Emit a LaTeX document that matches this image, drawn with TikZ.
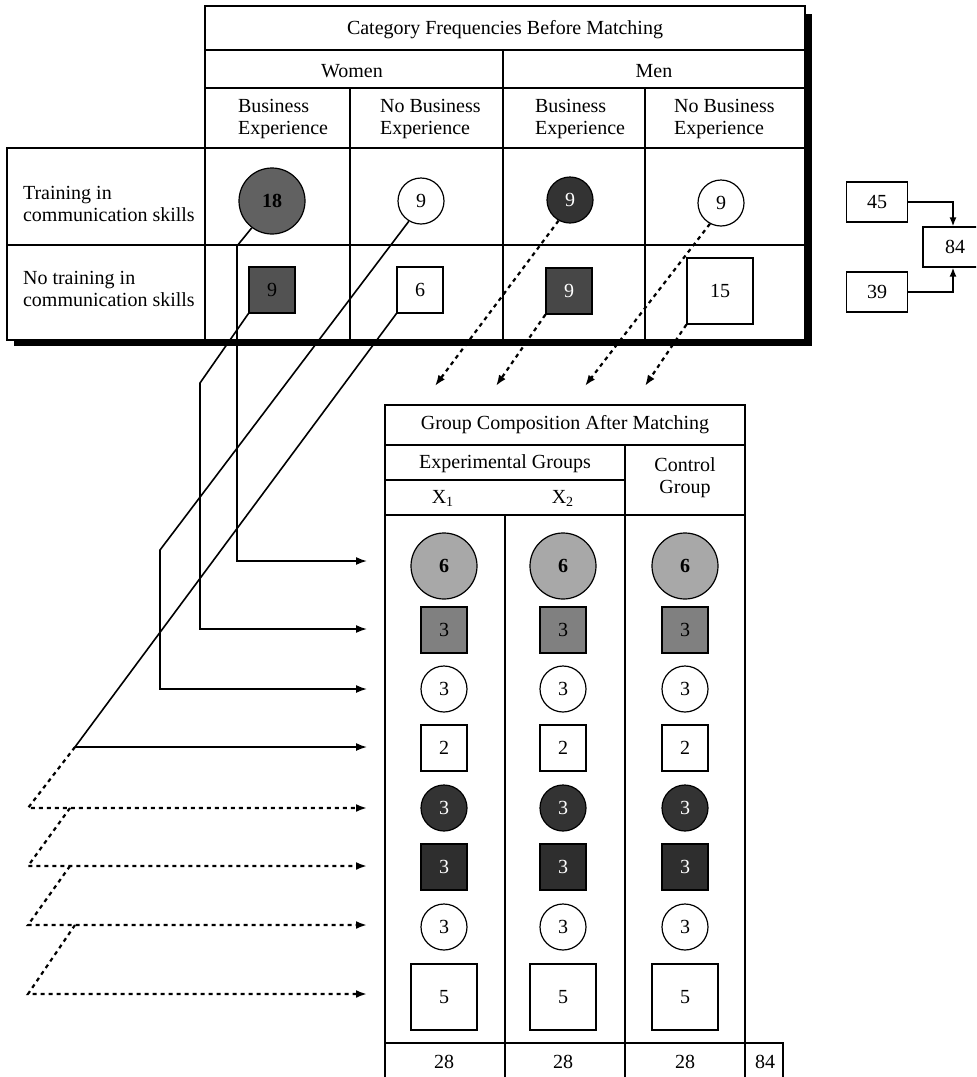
\documentclass[tikz,border=0pt]{standalone}
\usepackage{fontspec}
\setmainfont{Liberation Serif}
\usetikzlibrary{arrows.meta}
\definecolor{lightdot}{gray}{0.66}
\definecolor{middot}{gray}{0.50}
\definecolor{womendot}{gray}{0.38}
\definecolor{darkdot}{gray}{0.20}

\begin{document}
\begin{tikzpicture}[x=0.5pt,y=-0.5pt,
  font=\fontsize{10}{11}\selectfont,
  rule/.style={line width=0.6pt},
  ring/.style={circle,draw,line width=0.6pt,minimum size=23pt,inner sep=0pt},
  bigring/.style={ring,minimum size=33pt},
  tile/.style={rectangle,draw,line width=0.6pt,minimum size=23pt,inner sep=0pt},
  bigtile/.style={tile,minimum size=33pt},
  sumbox/.style={rectangle,draw,line width=0.6pt,minimum width=30.5pt,minimum height=20pt},
  wire/.style={line width=0.8pt,-{Latex[length=5.5pt,width=4pt]}},
  dotwire/.style={wire,line width=1.1pt,dash pattern=on 2pt off 2pt}]
\useasboundingbox (0,0) rectangle (976,1077);
\clip (0,0) rectangle (976,1077);

% before matching
\draw[rule] (205,6) rectangle (805,340);
\draw[rule] (7,148) rectangle (205,340);
\draw[rule] (205,50) -- (805,50);
\draw[rule] (205,88) -- (805,88);
\draw[rule] (205,148) -- (805,148);
\draw[rule] (7,245) -- (805,245);
\draw[rule] (503,50) -- (503,340);
\draw[rule] (350,88) -- (350,340);
\draw[rule] (645,88) -- (645,340);
\fill (14,340) rectangle (812,346);
\fill (805,14) rectangle (812,346);

\node (before) at (505,30) {Category Frequencies Before Matching};
\node (women) at (352,71) {Women};
\node (men) at (654,71) {Men};
\node[align=left,anchor=west] (hwb) at (231,119) {Business\\Experience};
\node[align=left,anchor=west] (hwn) at (373,119) {No Business\\Experience};
\node[align=left,anchor=west] (hmb) at (528,119) {Business\\Experience};
\node[align=left,anchor=west] (hmn) at (667,119) {No Business\\Experience};
\node[align=left,anchor=west] (rtrain) at (16,204) {Training in\\communication skills};
\node[align=left,anchor=west] (rnotrain) at (16,289) {No training in\\communication skills};

\node[bigring,fill=womendot] (wbt) at (272,201) {\textbf{18}};
\node[ring] (wnt) at (421,201) {9};
\node[ring,fill=darkdot,text=white] (mbt) at (570,200) {9};
\node[ring] (mnt) at (721,203) {9};
\node[tile,fill=womendot!85!black] (wbn) at (272,290) {9};
\node[tile] (wnn) at (420,290) {6};
\node[tile,fill=darkdot!90!white,text=white] (mbn) at (569,291) {9};
\node[bigtile] (mnn) at (720,291) {15};

% totals
\node[sumbox] (sum45) at (877,202) {45};
\node[sumbox] (sum39) at (877,292) {39};
\node[sumbox,minimum width=32pt] (sum84) at (955,247) {84};
\draw[wire,-{Latex[length=4.5pt,width=3.5pt]}] (sum45) -| ([xshift=-1pt]sum84.north);
\draw[wire,-{Latex[length=4.5pt,width=3.5pt]}] (sum39) -| ([xshift=-1pt]sum84.south);

% after matching
\draw[rule] (385,405) rectangle (745,1043);
\draw[rule] (385,445) -- (745,445);
\draw[rule] (385,480) -- (625,480);
\draw[rule] (385,515) -- (745,515);
\draw[rule] (505,515) -- (505,1077);
\draw[rule] (625,445) -- (625,1077);
\draw[rule] (385,1043) -- (385,1077);
\draw[rule] (745,1043) -- (745,1077);
\draw[rule] (745,1043) -- (783,1043) -- (783,1077);

\node (after) at (565,425) {Group Composition After Matching};
\node (expg) at (505,464) {Experimental Groups};
\node[align=center] (ctrl) at (685,478) {Control\\Group};
\node (xone) at (443,498) {X\textsubscript{1}};
\node (xtwo) at (563,498) {X\textsubscript{2}};

\foreach \gx/\gn in {444/ga,563/gb,685/gc} {
  \node[bigring,fill=lightdot] (\gn1) at (\gx,566) {\textbf{6}};
  \node[tile,fill=middot] (\gn2) at (\gx,630) {3};
  \node[ring] (\gn3) at (\gx,689) {3};
  \node[tile] (\gn4) at (\gx,748) {2};
  \node[ring,fill=darkdot,text=white] (\gn5) at (\gx,808) {3};
  \node[tile,fill=darkdot!90!black,text=white] (\gn6) at (\gx,867) {3};
  \node[ring] (\gn7) at (\gx,927) {3};
  \node[bigtile] (\gn8) at (\gx,997) {5};
  \node (\gn9) at (\gx,1062) {28};
}
\node (grand) at (765,1062) {84};

% connectors
\foreach \k/\y in {1/561,2/629,3/689,4/747,5/808,6/866,7/925,8/994}
  \coordinate (in\k) at (367,\y);
\coordinate (bend4) at (75,747);
\draw[wire] (wbt.233) -- (237,246) |- (in1);
\draw[wire] (wbn.south west) -- (200,383) |- (in2);
\draw[wire] (wnt.239) -- (160,550) |- (in3);
\draw[wire] (wnn.south west) -- (bend4) -- (in4);

\coordinate (dn1) at (435,386);
\coordinate (dn2) at (496,386);
\coordinate (dn3) at (585,386);
\coordinate (dn4) at (645,386);
\draw[dotwire] (mbt.241) -- (dn1);
\draw[dotwire] (mbn.south west) -- (dn2);
\draw[dotwire] (mnt.242) -- (dn3);
\draw[dotwire] (mnn.south west) -- (dn4);

\draw[dotwire] (bend4) -- (28,808) -- (in5);
\draw[dotwire] (70,808) -- (28,866) -- (in6);
\draw[dotwire] (70,866) -- (28,925) -- (in7);
\draw[dotwire] (75,925) -- (28,994) -- (in8);
\end{tikzpicture}
\end{document}
